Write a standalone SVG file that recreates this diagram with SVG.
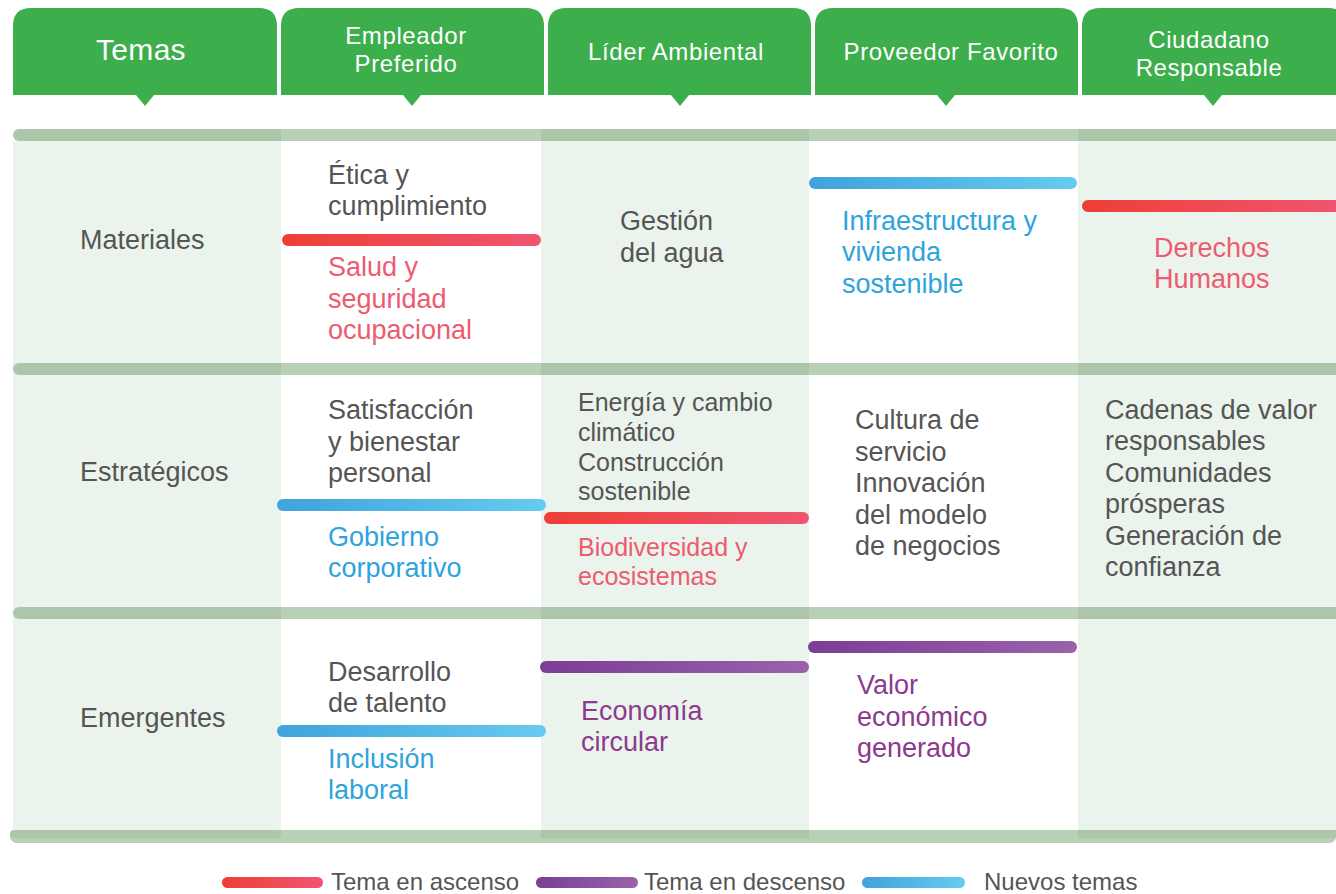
<svg xmlns="http://www.w3.org/2000/svg" width="1336" height="894" viewBox="0 0 1336 894">
<defs>
<linearGradient id="gRed" x1="0" x2="1" y1="0" y2="0"><stop offset="0" stop-color="#EE3F36"/><stop offset="1" stop-color="#F05571"/></linearGradient>
<linearGradient id="gBlue" x1="0" x2="1" y1="0" y2="0"><stop offset="0" stop-color="#40A3DB"/><stop offset="1" stop-color="#66CBF0"/></linearGradient>
<linearGradient id="gPurple" x1="0" x2="1" y1="0" y2="0"><stop offset="0" stop-color="#7B3D96"/><stop offset="1" stop-color="#9A62AB"/></linearGradient>
<style>
.tab{fill:#3DAE4C}
.ht{fill:#fff;font-family:"Liberation Sans",Arial,sans-serif;font-size:24px;letter-spacing:0.6px;text-anchor:middle}
.t{font-family:"Liberation Sans",Arial,sans-serif;font-size:27px;fill:#555}
.s{font-size:25px}
.red{fill:#EE5B70}
.blue{fill:#2FA3DB}
.pur{fill:#8C3A8F}
.gbg{fill:#EAF4EC}
.sd{fill:#ADC5A8}
.sl{fill:#B8D0B5}
.lg{font-family:"Liberation Sans",Arial,sans-serif;font-size:24px;fill:#555}
</style>
</defs>
<rect width="1336" height="894" fill="#fff"/>

<g id="background">
<rect class="gbg" x="13" y="141" width="268" height="689"/>
<rect class="gbg" x="541" y="141" width="268" height="689"/>
<rect class="gbg" x="1078" y="141" width="258" height="689"/>
</g>

<g id="separators">
<g>
<rect class="sd" x="13" y="129" width="280" height="12" rx="6"/>
<rect class="sl" x="281" y="129" width="260" height="12"/>
<rect class="sd" x="541" y="129" width="268" height="12"/>
<rect class="sl" x="809" y="129" width="269" height="12"/>
<rect class="sd" x="1078" y="129" width="258" height="12"/>
</g>
<g>
<rect class="sd" x="13" y="363" width="280" height="12" rx="6"/>
<rect class="sl" x="281" y="363" width="260" height="12"/>
<rect class="sd" x="541" y="363" width="268" height="12"/>
<rect class="sl" x="809" y="363" width="269" height="12"/>
<rect class="sd" x="1078" y="363" width="258" height="12"/>
</g>
<g>
<rect class="sd" x="13" y="607" width="280" height="12" rx="6"/>
<rect class="sl" x="281" y="607" width="260" height="12"/>
<rect class="sd" x="541" y="607" width="268" height="12"/>
<rect class="sl" x="809" y="607" width="269" height="12"/>
<rect class="sd" x="1078" y="607" width="258" height="12"/>
</g>
<g>
<rect class="sl" x="10" y="830" width="1326" height="13" rx="6.5"/>
<rect class="sd" x="10" y="830" width="271" height="8" rx="4"/>
<rect class="sd" x="541" y="830" width="268" height="8"/>
<rect class="sd" x="1078" y="830" width="258" height="8"/>
</g>
</g>

<g id="headers">
<g id="h-temas">
<path class="tab" d="M13 95 V26 Q13 8 31 8 H259 Q277 8 277 26 V95 Z"/>
<polygon class="tab" points="136,95 154,95 145,106"/>
<text class="ht" x="141" y="60" style="font-size:30px;letter-spacing:0.3px">Temas</text>
</g>
<g id="h-empleador">
<path class="tab" d="M281 95 V26 Q281 8 299 8 H526 Q544 8 544 26 V95 Z"/>
<polygon class="tab" points="403,95 421,95 412,106"/>
<text class="ht" x="406" y="44">Empleador</text>
<text class="ht" x="406" y="72">Preferido</text>
</g>
<g id="h-lider">
<path class="tab" d="M548 95 V26 Q548 8 566 8 H793 Q811 8 811 26 V95 Z"/>
<polygon class="tab" points="671,95 689,95 680,106"/>
<text class="ht" x="676" y="60">Líder Ambiental</text>
</g>
<g id="h-proveedor">
<path class="tab" d="M815 95 V26 Q815 8 833 8 H1060 Q1078 8 1078 26 V95 Z"/>
<polygon class="tab" points="937,95 955,95 946,106"/>
<text class="ht" x="951" y="60">Proveedor Favorito</text>
</g>
<g id="h-ciudadano">
<path class="tab" d="M1082 95 V26 Q1082 8 1100 8 H1328 Q1346 8 1346 26 V95 Z"/>
<polygon class="tab" points="1204,95 1222,95 1213,106"/>
<text class="ht" x="1209" y="48">Ciudadano</text>
<text class="ht" x="1209" y="76">Responsable</text>
</g>
</g>

<g id="row-labels">
<text class="t" x="80" y="249">Materiales</text>
<text class="t" x="80" y="481">Estratégicos</text>
<text class="t" x="80" y="727">Emergentes</text>
</g>

<g id="bars">
<rect x="282" y="234" width="259" height="12" rx="6" fill="url(#gRed)"/>
<rect x="809" y="177" width="268" height="12" rx="6" fill="url(#gBlue)"/>
<rect x="1082" y="200" width="264" height="12" rx="6" fill="url(#gRed)"/>
<rect x="277" y="499" width="269" height="12" rx="6" fill="url(#gBlue)"/>
<rect x="544" y="512" width="265" height="12" rx="6" fill="url(#gRed)"/>
<rect x="540" y="661" width="269" height="12" rx="6" fill="url(#gPurple)"/>
<rect x="808" y="641" width="269" height="12" rx="6" fill="url(#gPurple)"/>
<rect x="277" y="725" width="269" height="12" rx="6" fill="url(#gBlue)"/>
</g>

<g id="cell-r1-empleador">
<text class="t" x="328" y="184">Ética y</text>
<text class="t" x="328" y="215">cumplimiento</text>
<text class="t red" x="328" y="276">Salud y</text>
<text class="t red" x="328" y="308">seguridad</text>
<text class="t red" x="328" y="339">ocupacional</text>
</g>
<g id="cell-r1-lider">
<text class="t" x="620" y="230">Gestión</text>
<text class="t" x="620" y="262">del agua</text>
</g>
<g id="cell-r1-proveedor">
<text class="t blue" x="842" y="230">Infraestructura y</text>
<text class="t blue" x="842" y="261">vivienda</text>
<text class="t blue" x="842" y="293">sostenible</text>
</g>
<g id="cell-r1-ciudadano">
<text class="t red" x="1154" y="257">Derechos</text>
<text class="t red" x="1154" y="288">Humanos</text>
</g>

<g id="cell-r2-empleador">
<text class="t" x="328" y="419">Satisfacción</text>
<text class="t" x="328" y="451">y bienestar</text>
<text class="t" x="328" y="482">personal</text>
<text class="t blue" x="328" y="546">Gobierno</text>
<text class="t blue" x="328" y="577">corporativo</text>
</g>
<g id="cell-r2-lider">
<text class="t s" x="578" y="411">Energía y cambio</text>
<text class="t s" x="578" y="441">climático</text>
<text class="t s" x="578" y="471">Construcción</text>
<text class="t s" x="578" y="500">sostenible</text>
<text class="t s red" x="578" y="556">Biodiversidad y</text>
<text class="t s red" x="578" y="585">ecosistemas</text>
</g>
<g id="cell-r2-proveedor">
<text class="t" x="855" y="429">Cultura de</text>
<text class="t" x="855" y="461">servicio</text>
<text class="t" x="855" y="492">Innovación</text>
<text class="t" x="855" y="524">del modelo</text>
<text class="t" x="855" y="555">de negocios</text>
</g>
<g id="cell-r2-ciudadano">
<text class="t" x="1105" y="419">Cadenas de valor</text>
<text class="t" x="1105" y="450">responsables</text>
<text class="t" x="1105" y="482">Comunidades</text>
<text class="t" x="1105" y="513">prósperas</text>
<text class="t" x="1105" y="545">Generación de</text>
<text class="t" x="1105" y="576">confianza</text>
</g>

<g id="cell-r3-empleador">
<text class="t" x="328" y="681">Desarrollo</text>
<text class="t" x="328" y="712">de talento</text>
<text class="t blue" x="328" y="768">Inclusión</text>
<text class="t blue" x="328" y="799">laboral</text>
</g>
<g id="cell-r3-lider">
<text class="t pur" x="581" y="720">Economía</text>
<text class="t pur" x="581" y="751">circular</text>
</g>
<g id="cell-r3-proveedor">
<text class="t pur" x="857" y="694">Valor</text>
<text class="t pur" x="857" y="726">económico</text>
<text class="t pur" x="857" y="757">generado</text>
</g>

<g id="legend">
<rect x="222" y="877" width="101" height="11" rx="5.5" fill="url(#gRed)"/>
<text class="lg" x="331" y="890">Tema en ascenso</text>
<rect x="536" y="877" width="102" height="11" rx="5.5" fill="url(#gPurple)"/>
<text class="lg" x="644" y="890">Tema en descenso</text>
<rect x="862" y="877" width="103" height="11" rx="5.5" fill="url(#gBlue)"/>
<text class="lg" x="984" y="890">Nuevos temas</text>
</g>
</svg>
